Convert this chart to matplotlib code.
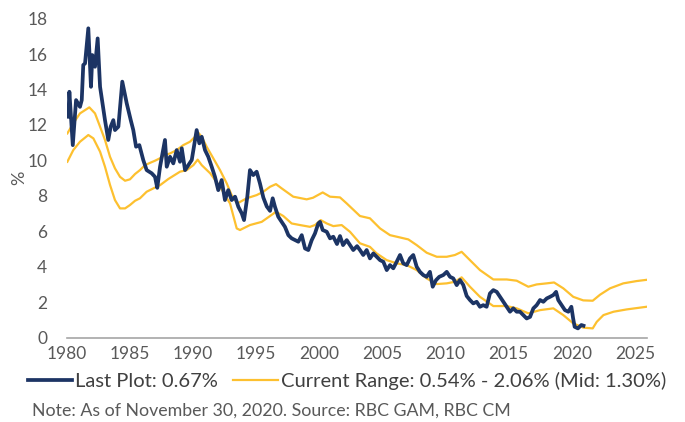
import matplotlib
matplotlib.use("Agg")
import matplotlib.pyplot as plt

plt.rcParams['font.family'] = ['Lato', 'DejaVu Sans']

# 10-year yield (%), read at irregular dates (decimal years)
yield_years = [
    1980.13, 1980.21, 1980.48, 1980.74, 1981.05, 1981.19, 1981.31, 1981.45, 1981.71, 1981.92,
    1982.03, 1982.24, 1982.45, 1982.64, 1983.03, 1983.29, 1983.48, 1983.69, 1983.82, 1984.09,
    1984.40, 1984.75, 1985.07, 1985.27, 1985.49, 1985.75, 1986.06, 1986.33, 1986.73, 1986.99,
    1987.17, 1987.39, 1987.78, 1987.92, 1988.18, 1988.44, 1988.71, 1988.97, 1989.11, 1989.37,
    1989.63, 1989.90, 1990.16, 1990.29, 1990.50, 1990.69, 1990.95, 1991.21, 1991.48, 1991.74,
    1992.00, 1992.27, 1992.53, 1992.79, 1993.06, 1993.33, 1993.59, 1993.86, 1994.04, 1994.30,
    1994.51, 1994.77, 1995.04, 1995.30, 1995.57, 1995.84, 1996.10, 1996.31, 1996.49, 1996.75,
    1997.02, 1997.28, 1997.55, 1997.81, 1998.08, 1998.34, 1998.61, 1998.87, 1999.13, 1999.40,
    1999.66, 1999.92, 2000.06, 2000.27, 2000.59, 2000.85, 2001.11, 2001.40, 2001.64, 2001.88,
    2002.17, 2002.43, 2002.69, 2002.99, 2003.22, 2003.48, 2003.75, 2004.01, 2004.28, 2004.54,
    2004.81, 2005.07, 2005.34, 2005.60, 2005.86, 2006.13, 2006.39, 2006.65, 2006.92, 2007.18,
    2007.44, 2007.71, 2007.97, 2008.23, 2008.50, 2008.76, 2008.98, 2009.24, 2009.50, 2009.82,
    2010.09, 2010.35, 2010.61, 2010.88, 2011.14, 2011.40, 2011.67, 2011.93, 2012.19, 2012.46,
    2012.72, 2012.98, 2013.25, 2013.51, 2013.78, 2014.05, 2014.31, 2014.57, 2014.84, 2015.10,
    2015.36, 2015.63, 2015.89, 2016.16, 2016.42, 2016.69, 2016.95, 2017.21, 2017.48, 2017.74,
    2018.01, 2018.27, 2018.53, 2018.75, 2018.92, 2019.19, 2019.45, 2019.72, 2019.96, 2020.10,
    2020.22, 2020.48, 2020.75, 2020.92,
]
yield_values = [
    12.46, 13.87, 10.86, 13.40, 13.02, 13.40, 15.38, 15.47, 17.45, 14.15,
    15.94, 15.28, 16.88, 14.15, 12.27, 11.15, 11.90, 12.27, 11.71, 11.90,
    14.44, 13.22, 12.27, 11.71, 10.77, 10.86, 10.02, 9.45, 9.27, 9.07,
    8.45, 9.64, 11.15, 9.64, 10.20, 9.83, 10.58, 9.92, 10.68, 9.45,
    9.73, 10.02, 11.15, 11.71, 10.96, 11.33, 10.58, 10.20, 9.64, 9.07,
    8.32, 8.89, 7.76, 8.32, 7.76, 7.95, 7.38, 7.01, 6.63, 7.95,
    9.45, 9.17, 9.36, 8.70, 7.90, 7.40, 7.15, 7.86, 7.38, 6.82,
    6.53, 6.25, 5.78, 5.60, 5.50, 5.41, 5.78, 5.03, 4.94, 5.50,
    5.88, 6.44, 6.53, 6.07, 5.97, 5.60, 5.69, 5.28, 5.73, 5.22,
    5.50, 5.22, 4.94, 5.16, 4.94, 4.66, 4.94, 4.47, 4.75, 4.56,
    4.37, 4.28, 3.81, 4.09, 3.91, 4.28, 4.66, 4.19, 4.09, 4.47,
    4.66, 4.00, 3.71, 3.53, 3.43, 3.71, 2.87, 3.24, 3.43, 3.53,
    3.71, 3.43, 3.34, 2.96, 3.25, 2.97, 2.35, 2.12, 1.93, 2.02,
    1.74, 1.83, 1.74, 2.49, 2.68, 2.58, 2.30, 2.02, 1.74, 1.46,
    1.65, 1.46, 1.46, 1.27, 1.08, 1.17, 1.65, 1.83, 2.12, 2.02,
    2.21, 2.30, 2.40, 2.58, 2.12, 1.83, 1.55, 1.46, 1.74, 1.08,
    0.61, 0.52, 0.71, 0.67,
]

# upper edge of the range band
upper_years = [
    1980.05, 1980.52, 1981.05, 1981.79, 1982.24, 1982.64, 1983.03, 1983.43, 1983.82, 1984.22,
    1984.62, 1985.01, 1985.41, 1985.80, 1986.20, 1986.60, 1986.99, 1987.39, 1987.78, 1988.18,
    1988.71, 1989.23, 1989.76, 1990.16, 1990.42, 1990.69, 1991.08, 1991.61, 1992.14, 1992.67,
    1993.06, 1993.51, 1994.25, 1995.04, 1995.57, 1996.10, 1996.57, 1997.02, 1997.94, 1999.00,
    1999.50, 2000.27, 2000.85, 2001.64, 2002.17, 2003.22, 2004.01, 2004.81, 2005.60, 2006.39,
    2007.05, 2007.71, 2008.50, 2009.30, 2010.09, 2010.74, 2011.27, 2011.93, 2012.72, 2013.78,
    2014.84, 2015.63, 2016.55, 2017.21, 2018.00, 2018.59, 2019.32, 2020.11, 2020.90, 2021.65,
    2022.23, 2023.02, 2024.07, 2025.13, 2025.92,
]
upper_values = [
    11.52, 12.09, 12.65, 12.99, 12.65, 11.90, 11.15, 10.20, 9.55, 9.07,
    8.85, 8.93, 9.23, 9.45, 9.73, 9.86, 9.98, 10.12, 10.30, 10.39,
    10.58, 10.86, 11.05, 11.33, 11.56, 11.33, 10.77, 10.11, 9.45, 8.70,
    8.04, 7.57, 7.86, 8.04, 8.23, 8.51, 8.66, 8.42, 7.95, 7.80,
    7.89, 8.19, 7.95, 7.91, 7.57, 6.86, 6.73, 6.16, 5.78, 5.65,
    5.54, 5.22, 4.79, 4.56, 4.56, 4.66, 4.84, 4.37, 3.81, 3.28,
    3.28, 3.21, 2.87, 3.00, 3.06, 3.11, 2.78, 2.30, 2.10, 2.08,
    2.42, 2.78, 3.06, 3.19, 3.26,
]

# lower edge of the range band
lower_years = [
    1980.05, 1980.52, 1981.05, 1981.71, 1982.11, 1982.64, 1983.03, 1983.43, 1983.82, 1984.22,
    1984.62, 1985.01, 1985.41, 1985.80, 1986.33, 1986.86, 1987.39, 1988.05, 1988.97, 1989.50,
    1990.03, 1990.37, 1990.69, 1991.36, 1992.14, 1992.93, 1993.46, 1993.72, 1994.51, 1995.44,
    1996.10, 1996.57, 1997.15, 1997.81, 1998.47, 1999.26, 1999.66, 2000.11, 2000.59, 2001.11,
    2001.77, 2002.43, 2003.22, 2004.01, 2004.54, 2005.34, 2006.13, 2006.92, 2007.71, 2008.50,
    2009.30, 2010.09, 2010.74, 2011.27, 2011.93, 2012.72, 2013.78, 2014.84, 2015.63, 2016.55,
    2017.48, 2018.53, 2019.32, 2020.11, 2020.77, 2020.90, 2021.65, 2021.97, 2022.50, 2023.30,
    2024.34, 2025.92,
]
lower_values = [
    9.92, 10.58, 11.05, 11.43, 11.24, 10.49, 9.64, 8.61, 7.76, 7.29,
    7.29, 7.48, 7.72, 7.86, 8.23, 8.42, 8.60, 8.95, 9.36, 9.45,
    9.73, 10.04, 9.73, 9.27, 8.51, 7.57, 6.16, 6.07, 6.35, 6.53,
    6.86, 7.10, 6.86, 6.44, 6.35, 6.25, 6.35, 6.63, 6.44, 6.29,
    6.35, 5.97, 5.32, 5.12, 4.75, 4.37, 4.19, 4.09, 3.81, 3.34,
    3.02, 3.06, 3.15, 3.40, 2.87, 2.30, 1.78, 1.78, 1.65, 1.37,
    1.55, 1.65, 1.27, 0.80, 0.61, 0.56, 0.52, 0.89, 1.27, 1.46,
    1.59, 1.74,
]

year_ticks = list(range(1980, 2030, 5))
pct_ticks = list(range(0, 20, 2))

navy = '#1c3464'
gold = '#fdc02f'
grey_text = '#595959'

fig = plt.figure(figsize=(6.85, 4.22), dpi=100)
ax = fig.add_axes([0.0974, 0.2, 0.8466, 0.756])

ax.plot(upper_years, upper_values, color=gold, lw=1.6,
        label='Current Range: 0.54% - 2.06% (Mid: 1.30%)')
ax.plot(lower_years, lower_values, color=gold, lw=1.6, label='_nolegend_')
ax.plot(yield_years, yield_values, color=navy, lw=2.7, label='Last Plot: 0.67%',
        solid_joinstyle='round')

ax.set_xlim(1980, 2025.92)
ax.set_ylim(0, 18)
ax.set_xticks(year_ticks)
ax.set_yticks(pct_ticks)
ax.tick_params(axis='both', length=0, labelsize=12.5, colors=grey_text)
ax.tick_params(axis='x', pad=6)
ax.tick_params(axis='y', pad=14)
for side in ('top', 'right', 'left'):
    ax.spines[side].set_visible(False)
ax.spines['bottom'].set_color('#a6a6a6')
ax.spines['bottom'].set_linewidth(1.2)
ax.set_ylabel('%', fontsize=13, color=grey_text, labelpad=0)

handles, labels = ax.get_legend_handles_labels()
order = [1, 0]
leg = fig.legend([handles[i] for i in order], [labels[i] for i in order],
                 loc='center left', bbox_to_anchor=(0.041, 0.097), ncol=2,
                 frameon=False, fontsize=14.5, handlelength=2.2,
                 handletextpad=0.15, columnspacing=0.75, borderaxespad=0,
                 borderpad=0)
for t in leg.get_texts():
    t.set_color('#404040')

fig.text(0.047, 0.028, 'Note: As of November 30, 2020. Source: RBC GAM, RBC CM',
         fontsize=12.8, color=grey_text, va='center', ha='left')

fig.savefig('out.png', dpi=100)
